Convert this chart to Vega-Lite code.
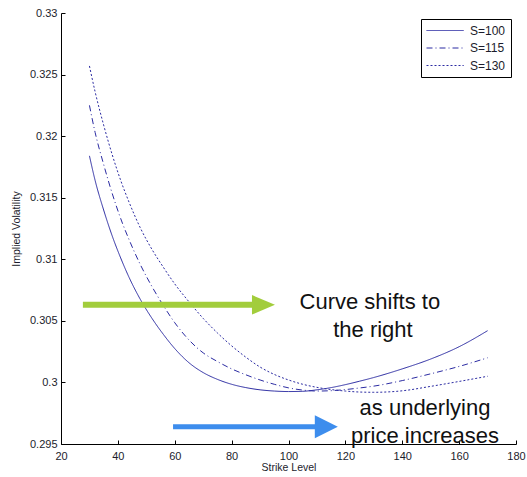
{
  "$schema": "https://vega.github.io/schema/vega-lite/v6.json",
  "width": 455,
  "height": 431,
  "autosize": {"type": "none"},
  "padding": {"left": 61, "top": 13, "right": 11, "bottom": 33},
  "background": "white",
  "config": {
    "view": {"stroke": null},
    "font": "Liberation Sans",
    "axis": {
      "domainColor": "#000",
      "tickColor": "#000",
      "labelColor": "#1c1c2c",
      "titleColor": "#1c1c2c",
      "grid": false,
      "labelFlush": false,
      "labelOverlap": false,
      "labelFont": "Liberation Sans",
      "titleFont": "Liberation Sans",
      "titleFontWeight": "normal",
      "labelFontSize": 11,
      "titleFontSize": 10.5
    }
  },
  "datasets": {
    "smile": [
      {"strike": 30, "vol": 0.3184, "series": "S=100"},
      {"strike": 32, "vol": 0.3164, "series": "S=100"},
      {"strike": 35, "vol": 0.3140, "series": "S=100"},
      {"strike": 38, "vol": 0.3119, "series": "S=100"},
      {"strike": 41, "vol": 0.3101, "series": "S=100"},
      {"strike": 44, "vol": 0.3085, "series": "S=100"},
      {"strike": 48, "vol": 0.3067, "series": "S=100"},
      {"strike": 52, "vol": 0.3052, "series": "S=100"},
      {"strike": 56, "vol": 0.3039, "series": "S=100"},
      {"strike": 60, "vol": 0.30275, "series": "S=100"},
      {"strike": 65, "vol": 0.3016, "series": "S=100"},
      {"strike": 70, "vol": 0.3008, "series": "S=100"},
      {"strike": 75, "vol": 0.30025, "series": "S=100"},
      {"strike": 80, "vol": 0.29985, "series": "S=100"},
      {"strike": 85, "vol": 0.29958, "series": "S=100"},
      {"strike": 90, "vol": 0.2994, "series": "S=100"},
      {"strike": 95, "vol": 0.2993, "series": "S=100"},
      {"strike": 100, "vol": 0.29926, "series": "S=100"},
      {"strike": 105, "vol": 0.29928, "series": "S=100"},
      {"strike": 110, "vol": 0.2994, "series": "S=100"},
      {"strike": 115, "vol": 0.29958, "series": "S=100"},
      {"strike": 120, "vol": 0.29982, "series": "S=100"},
      {"strike": 125, "vol": 0.3001, "series": "S=100"},
      {"strike": 130, "vol": 0.3004, "series": "S=100"},
      {"strike": 140, "vol": 0.3011, "series": "S=100"},
      {"strike": 150, "vol": 0.3019, "series": "S=100"},
      {"strike": 160, "vol": 0.3029, "series": "S=100"},
      {"strike": 170, "vol": 0.3042, "series": "S=100"},

      {"strike": 30, "vol": 0.3225, "series": "S=115"},
      {"strike": 32, "vol": 0.3203, "series": "S=115"},
      {"strike": 35, "vol": 0.3177, "series": "S=115"},
      {"strike": 38, "vol": 0.31535, "series": "S=115"},
      {"strike": 41, "vol": 0.3133, "series": "S=115"},
      {"strike": 44, "vol": 0.31156, "series": "S=115"},
      {"strike": 48, "vol": 0.30952, "series": "S=115"},
      {"strike": 52, "vol": 0.30778, "series": "S=115"},
      {"strike": 56, "vol": 0.30624, "series": "S=115"},
      {"strike": 60, "vol": 0.30485, "series": "S=115"},
      {"strike": 65, "vol": 0.30345, "series": "S=115"},
      {"strike": 70, "vol": 0.3024, "series": "S=115"},
      {"strike": 75, "vol": 0.3017, "series": "S=115"},
      {"strike": 80, "vol": 0.3011, "series": "S=115"},
      {"strike": 85, "vol": 0.30062, "series": "S=115"},
      {"strike": 90, "vol": 0.3002, "series": "S=115"},
      {"strike": 95, "vol": 0.29985, "series": "S=115"},
      {"strike": 100, "vol": 0.29956, "series": "S=115"},
      {"strike": 105, "vol": 0.29938, "series": "S=115"},
      {"strike": 110, "vol": 0.2993, "series": "S=115"},
      {"strike": 115, "vol": 0.29933, "series": "S=115"},
      {"strike": 120, "vol": 0.29942, "series": "S=115"},
      {"strike": 125, "vol": 0.29955, "series": "S=115"},
      {"strike": 130, "vol": 0.2997, "series": "S=115"},
      {"strike": 140, "vol": 0.30015, "series": "S=115"},
      {"strike": 150, "vol": 0.3007, "series": "S=115"},
      {"strike": 160, "vol": 0.3013, "series": "S=115"},
      {"strike": 170, "vol": 0.3020, "series": "S=115"},

      {"strike": 30, "vol": 0.3257, "series": "S=130"},
      {"strike": 32, "vol": 0.3236, "series": "S=130"},
      {"strike": 35, "vol": 0.3209, "series": "S=130"},
      {"strike": 38, "vol": 0.3185, "series": "S=130"},
      {"strike": 41, "vol": 0.3164, "series": "S=130"},
      {"strike": 44, "vol": 0.3146, "series": "S=130"},
      {"strike": 48, "vol": 0.3125, "series": "S=130"},
      {"strike": 52, "vol": 0.3108, "series": "S=130"},
      {"strike": 56, "vol": 0.30935, "series": "S=130"},
      {"strike": 60, "vol": 0.3080, "series": "S=130"},
      {"strike": 65, "vol": 0.30655, "series": "S=130"},
      {"strike": 70, "vol": 0.3052, "series": "S=130"},
      {"strike": 75, "vol": 0.30402, "series": "S=130"},
      {"strike": 80, "vol": 0.30297, "series": "S=130"},
      {"strike": 85, "vol": 0.30205, "series": "S=130"},
      {"strike": 90, "vol": 0.30125, "series": "S=130"},
      {"strike": 95, "vol": 0.30065, "series": "S=130"},
      {"strike": 100, "vol": 0.3002, "series": "S=130"},
      {"strike": 105, "vol": 0.29985, "series": "S=130"},
      {"strike": 110, "vol": 0.2996, "series": "S=130"},
      {"strike": 115, "vol": 0.29942, "series": "S=130"},
      {"strike": 120, "vol": 0.2993, "series": "S=130"},
      {"strike": 125, "vol": 0.29922, "series": "S=130"},
      {"strike": 130, "vol": 0.2992, "series": "S=130"},
      {"strike": 140, "vol": 0.29932, "series": "S=130"},
      {"strike": 150, "vol": 0.29968, "series": "S=130"},
      {"strike": 160, "vol": 0.30008, "series": "S=130"},
      {"strike": 170, "vol": 0.3005, "series": "S=130"}
    ],
    "arrows": [
      {"arrow": "shift", "start": 27.7, "end": 90, "head": 91.2, "vol": 0.3063},
      {"arrow": "price", "start": 59.4, "end": 112, "head": 113.3, "vol": 0.2964}
    ],
    "notes": [
      {"text": "Curve shifts to", "strike": 128.6, "vol": 0.30654},
      {"text": "the right", "strike": 129.7, "vol": 0.30427},
      {"text": "as underlying", "strike": 148, "vol": 0.29794},
      {"text": "price increases", "strike": 148, "vol": 0.29567}
    ]
  },
  "layer": [
    {
      "data": {"name": "smile"},
      "mark": {"type": "line", "color": "#2b2ba2", "strokeWidth": 1, "interpolate": "monotone", "clip": true},
      "encoding": {
        "x": {
          "field": "strike", "type": "quantitative",
          "scale": {"domain": [20, 180], "nice": false},
          "axis": {"title": "Strike Level", "values": [20, 40, 60, 80, 100, 120, 140, 160, 180], "tickSize": -4, "labelPadding": 10, "titlePadding": 1}
        },
        "y": {
          "field": "vol", "type": "quantitative",
          "scale": {"domain": [0.295, 0.33], "nice": false, "zero": false},
          "axis": {"title": "Implied Volatility", "values": [0.295, 0.3, 0.305, 0.31, 0.315, 0.32, 0.325, 0.33], "format": ".3~f", "tickSize": -4, "labelPadding": 8, "titlePadding": 8}
        },
        "strokeDash": {
          "field": "series", "type": "nominal",
          "scale": {"domain": ["S=100", "S=115", "S=130"], "range": [[1, 0], [6, 3, 1, 3], [2, 2]]},
          "legend": {
            "title": null,
            "orient": "none",
            "legendX": 360,
            "legendY": 6,
            "direction": "vertical",
            "strokeColor": "#000",
            "fillColor": "#fff",
            "padding": 5,
            "symbolType": "M-1,0H5.2",
            "symbolStrokeColor": "#2b2ba2",
            "symbolFillColor": "transparent",
            "symbolStrokeWidth": 1,
            "symbolSize": 144,
            "labelFontSize": 12,
            "labelColor": "#1c1c2c",
            "labelFont": "Liberation Sans",
            "rowPadding": 4.5,
            "labelOffset": 31
          }
        }
      }
    },
    {
      "data": {"name": "arrows"},
      "transform": [{"filter": "datum.arrow === 'shift'"}],
      "mark": {"type": "rule", "color": "#a2cd3c", "strokeWidth": 6, "strokeCap": "butt"},
      "encoding": {
        "x": {"field": "start", "type": "quantitative"},
        "x2": {"field": "end"},
        "y": {"field": "vol", "type": "quantitative"}
      }
    },
    {
      "data": {"name": "arrows"},
      "transform": [{"filter": "datum.arrow === 'shift'"}],
      "mark": {"type": "point", "shape": "M-1,-0.85L1,0L-1,0.85Z", "filled": true, "color": "#a2cd3c", "opacity": 1, "size": 529},
      "encoding": {
        "x": {"field": "head", "type": "quantitative"},
        "y": {"field": "vol", "type": "quantitative"}
      }
    },
    {
      "data": {"name": "arrows"},
      "transform": [{"filter": "datum.arrow === 'price'"}],
      "mark": {"type": "rule", "color": "#3d8ded", "strokeWidth": 5, "strokeCap": "butt"},
      "encoding": {
        "x": {"field": "start", "type": "quantitative"},
        "x2": {"field": "end"},
        "y": {"field": "vol", "type": "quantitative"}
      }
    },
    {
      "data": {"name": "arrows"},
      "transform": [{"filter": "datum.arrow === 'price'"}],
      "mark": {"type": "point", "shape": "M-1,-1L1,0L-1,1Z", "filled": true, "color": "#3d8ded", "opacity": 1, "size": 529},
      "encoding": {
        "x": {"field": "head", "type": "quantitative"},
        "y": {"field": "vol", "type": "quantitative"}
      }
    },
    {
      "data": {"name": "notes"},
      "mark": {"type": "text", "font": "Liberation Sans", "fontSize": 22, "color": "#111", "align": "center", "baseline": "middle"},
      "encoding": {
        "x": {"field": "strike", "type": "quantitative"},
        "y": {"field": "vol", "type": "quantitative"},
        "text": {"field": "text"}
      }
    }
  ]
}
